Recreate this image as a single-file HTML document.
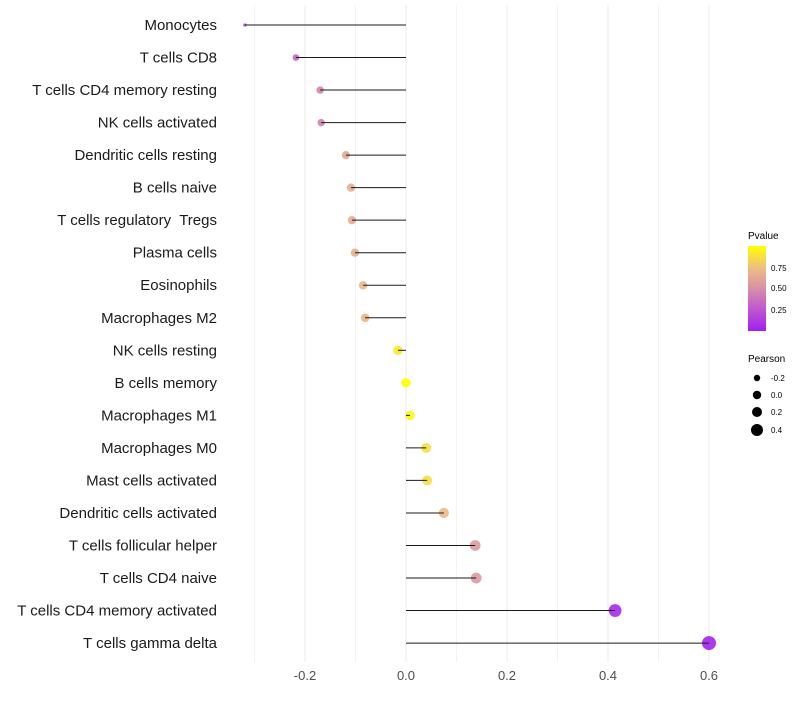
<!DOCTYPE html>
<html><head><meta charset="utf-8"><style>
body{margin:0;background:#fff;font-family:"Liberation Sans",sans-serif}
</style></head><body>
<svg id="chart" width="800" height="700" xmlns="http://www.w3.org/2000/svg">
<g id="grid"></g><g id="pts"></g><g id="marks"></g><g id="ylab"></g><g id="xlab"></g>
<g id="legend">
<text x="748" y="239" font-size="10" fill="#000">Pvalue</text>
<defs><linearGradient id="pg" x1="0" y1="1" x2="0" y2="0">
<stop offset="0" stop-color="#a020f0"/><stop offset="0.25" stop-color="#c055d0"/><stop offset="0.5" stop-color="#d88fa8"/><stop offset="0.75" stop-color="#eec080"/><stop offset="1" stop-color="#ffff00"/></linearGradient></defs>
<rect x="748" y="246" width="18" height="85" fill="url(#pg)"/>
<text x="771" y="271" font-size="8">0.75</text>
<text x="771" y="291" font-size="8">0.50</text>
<text x="771" y="313" font-size="8">0.25</text>
<text x="748" y="362" font-size="10">Pearson</text>
<circle cx="757" cy="378" r="3.2" fill="#000"/><text x="771" y="381" font-size="8">-0.2</text>
<circle cx="757" cy="395" r="4.2" fill="#000"/><text x="771" y="398" font-size="8">0.0</text>
<circle cx="757" cy="412" r="5" fill="#000"/><text x="771" y="415" font-size="8">0.2</text>
<circle cx="757" cy="430" r="6" fill="#000"/><text x="771" y="433" font-size="8">0.4</text>
</g>
</svg>
<script>
const categories=["Monocytes","T cells CD8","T cells CD4 memory resting","NK cells activated","Dendritic cells resting","B cells naive","T cells regulatory  Tregs","Plasma cells","Eosinophils","Macrophages M2","NK cells resting","B cells memory","Macrophages M1","Macrophages M0","Mast cells activated","Dendritic cells activated","T cells follicular helper","T cells CD4 naive","T cells CD4 memory activated","T cells gamma delta"];
const pearson=[-0.319,-0.218,-0.170,-0.168,-0.119,-0.109,-0.107,-0.101,-0.085,-0.081,-0.016,0.0,0.008,0.040,0.042,0.075,0.137,0.139,0.414,0.600];
const pvalues=[0.15,0.32,0.45,0.45,0.62,0.65,0.65,0.66,0.7,0.7,0.92,1.0,0.97,0.87,0.87,0.72,0.55,0.55,0.05,0.02];
const xTicks=[-0.2,0,0.2,0.4,0.6];
const ns="http://www.w3.org/2000/svg";
const X=v=>406+v*505;
const Y=i=>25+i*32.53;
const R=v=>1.5+5.5*Math.sqrt(Math.max(0,(v+0.32)/0.92));
function col(p){const st=[[0,[160,32,240]],[0.25,[192,85,208]],[0.5,[216,143,168]],[0.75,[238,192,128]],[1,[255,255,0]]];
for(let k=1;k<st.length;k++){if(p<=st[k][0]){const a=st[k-1],b=st[k],t=(p-a[0])/(b[0]-a[0]);return "rgb("+a[1].map((c,j)=>Math.round(c+(b[1][j]-c)*t)).join(",")+")";}}return "rgb(255,255,0)";}
function mk(tag,at,parent){const e=document.createElementNS(ns,tag);for(const k in at)e.setAttribute(k,at[k]);document.getElementById(parent).appendChild(e);return e;}
for(let v=-0.3;v<=0.61;v+=0.1){const g=mk("line",{x1:X(v),x2:X(v),y1:5,y2:662,stroke:"#ebebeb","stroke-width":Math.abs(Math.round(v*10))%2===0?1:0.6},"grid");

}
xTicks.forEach(t=>{const e=mk("text",{x:X(t),y:680,"font-size":13,"text-anchor":"middle",fill:"#4d4d4d"},"xlab");e.textContent=t===0?"0.0":t.toFixed(1);

});
categories.forEach((c,i)=>{
const p=mk("circle",{cx:X(pearson[i]),cy:Y(i),r:R(pearson[i]),fill:col(pvalues[i]),"fill-opacity":0.9},"pts");


const l=mk("line",{x1:X(0),x2:X(pearson[i]),y1:Y(i),y2:Y(i),stroke:"#1a1a1a","stroke-width":1},"marks");


const t=mk("text",{x:217,y:Y(i)+5,"font-size":15,"text-anchor":"end",fill:"#1a1a1a"},"ylab");t.textContent=c;t.setAttribute("xml:space","preserve");t.style.whiteSpace="pre";


});
</script>
</body></html>
